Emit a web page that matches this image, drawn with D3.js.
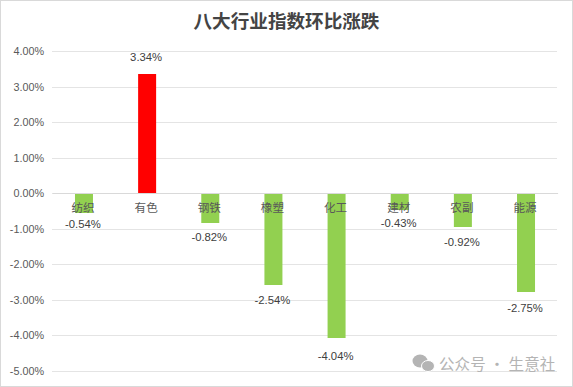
<!DOCTYPE html>
<html>
<head>
<meta charset="utf-8">
<script src="https://cdn.jsdelivr.net/npm/d3@7"></script>
<style>
    html, body { margin: 0; padding: 0; background: #fff; overflow: hidden; }
    svg { display: block; }
</style>
</head>
<body>
<div id="chart"></div>
<script>
// Data
const categories = ["纺织", "有色", "钢铁", "橡塑", "化工", "建材", "农副", "能源"];
const changes = [-0.54, 3.34, -0.82, -2.54, -4.04, -0.43, -0.92, -2.75];
const yTicks = [4, 3, 2, 1, 0, -1, -2, -3, -4, -5];

// label distance from the bar end, read per bar
const labelGaps = [12, 17, 15, 16, 19, 14, 16, 17];

const chartTitle = "八大行业指数环比涨跌";
const watermark = "公众号 · 生意社";

const W = 573, H = 387;
const latin = "'Liberation Sans', 'Noto Sans CJK SC', sans-serif";
const cjk = "'Noto Sans CJK SC', sans-serif";

const svg = d3.select("#chart").append("svg")
    .attr("width", W)
    .attr("height", H);

// Outer frame
svg.append("rect")
    .attr("x", 0.5)
    .attr("y", 0.5)
    .attr("width", W - 1)
    .attr("height", H - 1)
    .attr("fill", "#fff")
    .attr("stroke", "#d9d9d9");

// Title
svg.append("text")
    .attr("x", 286.5)
    .attr("y", 28)
    .attr("text-anchor", "middle")
    .attr("font-family", cjk)
    .attr("font-size", "18.6px")
    .attr("font-weight", 700)
    .attr("fill", "#444")
    .text(chartTitle);

// Scales
const x = d3.scaleBand()
    .domain(categories)
    .range([52.4, 557.6])
    .paddingInner(0.715)
    .paddingOuter(0.3575);

const y = d3.scaleLinear()
    .domain([4, -5])
    .rangeRound([51, 371]);

// Y axis and gridlines
const yAxis = svg.append("g")
    .attr("transform", "translate(52,0)")
    .call(d3.axisLeft(y)
        .tickValues(yTicks)
        .tickSize(-505)
        .tickPadding(8)
        .tickFormat(d => d.toFixed(2) + "%"));

yAxis.select(".domain").remove();
yAxis.selectAll("line")
    .attr("stroke", "#e4e4e4");
yAxis.selectAll("text")
    .attr("font-family", latin)
    .attr("font-size", "10.8px")
    .attr("fill", "#595959");

// Bars
svg.selectAll(".bar")
    .data(changes)
    .join("rect")
    .attr("class", "bar")
    .attr("x", (d, i) => x(categories[i]))
    .attr("y", d => d > 0 ? y(d) : y(0) + 1)
    .attr("width", x.bandwidth())
    .attr("height", d => d > 0 ? y(0) - y(d) : y(d) - y(0))
    .attr("fill", d => d > 0 ? "#ff0000" : "#92d050");

// X axis on the zero line
const xAxis = svg.append("g")
    .attr("transform", `translate(0,${y(0)})`)
    .call(d3.axisBottom(x).tickSize(0).tickPadding(11));

xAxis.select(".domain")
    .attr("stroke", "#d9d9d9");
xAxis.selectAll("text")
    .attr("dx", -1)
    .attr("font-family", cjk)
    .attr("font-size", "11.6px")
    .attr("fill", "#595959");

// Value labels
svg.selectAll(".value")
    .data(changes)
    .join("text")
    .attr("class", "value")
    .attr("x", (d, i) => x(categories[i]) + x.bandwidth() / 2 - 1)
    .attr("y", (d, i) => y(d) + (d > 0 ? -labelGaps[i] : labelGaps[i]))
    .attr("dy", "0.36em")
    .attr("text-anchor", "middle")
    .attr("font-family", latin)
    .attr("font-size", "11.3px")
    .attr("fill", "#404040")
    .text(d => d.toFixed(2) + "%");

// Watermark
const mark = svg.append("g").attr("fill", "#b4b4b4");
mark.append("ellipse")
    .attr("cx", 420)
    .attr("cy", 361)
    .attr("rx", 7.5)
    .attr("ry", 6.5);
mark.append("ellipse")
    .attr("cx", 428)
    .attr("cy", 366)
    .attr("rx", 6.5)
    .attr("ry", 5.5)
    .attr("stroke", "#fff");
mark.append("text")
    .attr("x", 439)
    .attr("y", 370)
    .attr("font-family", cjk)
    .attr("font-size", "15.5px")
    .attr("letter-spacing", "0.1px")
    .text(watermark);
</script>
</body>
</html>
